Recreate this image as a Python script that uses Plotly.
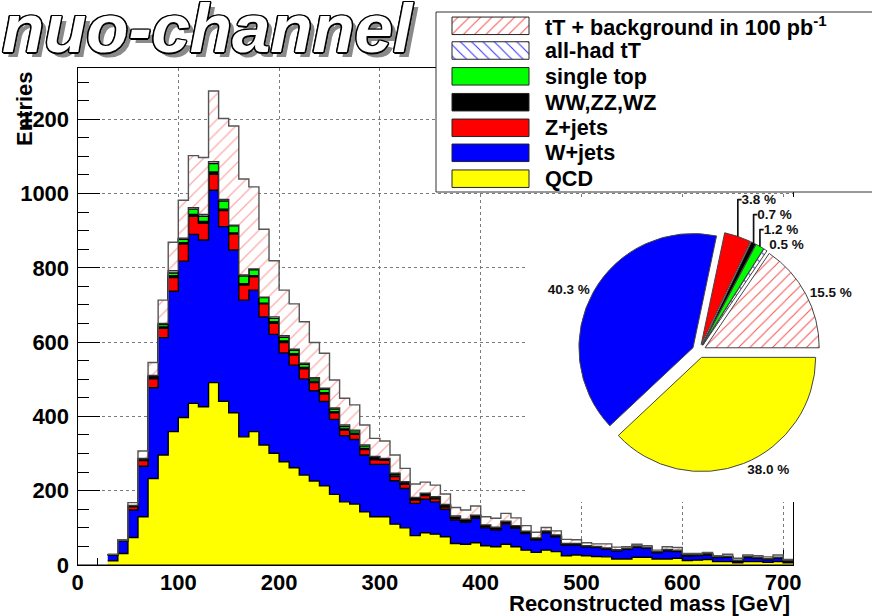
import numpy as np
import plotly.graph_objects as go

# ---------------- data ----------------
bin_low = list(range(30, 710, 10))  # 68 bins of 10 GeV, 30..700
qcd = [11, 31, 74, 130, 233, 296, 359, 397, 435, 426,
       491, 441, 410, 345, 359, 323, 301, 278, 262, 242,
       226, 213, 190, 170, 164, 143, 130, 130, 110, 100,
       79, 87, 83, 76, 58, 56, 60, 52, 49, 56,
       49, 40, 34, 40, 36, 25, 27, 25, 23, 22,
       16, 16, 21, 21, 16, 16, 18, 12, 13, 15,
       9, 9, 6, 9, 9, 7, 9, 6]
wjets = [16, 34, 74, 136, 244, 316, 378, 421, 455, 449,
         518, 470, 438, 368, 381, 345, 320, 293, 276, 259,
         243, 227, 202, 178, 174, 153, 141, 141, 117, 106,
         87, 90, 87, 74, 63, 59, 66, 48, 45, 54,
         50, 45, 33, 47, 40, 29, 27, 24, 24, 21,
         22, 26, 27, 24, 17, 22, 18, 12, 12, 12,
         11, 12, 5, 11, 9, 8, 9, 4]
zjets = [1, 1, 9, 15, 24, 25, 37, 46, 49, 45,
         43, 43, 43, 41, 36, 35, 30, 28, 27, 27,
         22, 20, 18, 15, 14, 15, 12, 11, 11, 11,
         9, 10, 8, 6, 5, 3, 3, 3, 3, 3,
         3, 2, 2, 1, 1, 1, 1, 1, 1, 1,
         1, 1, 1, 1, 1, 1, 1, 1, 1, 1,
         1, 0, 0, 0, 0, 0, 0, 0]
diboson = [0, 0, 1, 2, 3, 4, 5, 4, 5, 5,
           6, 4, 3, 3, 3, 2, 4, 4, 4, 4,
           4, 4, 3, 3, 3, 3, 3, 2, 2, 2,
           2, 2, 2, 2, 2, 2, 2, 2, 2, 2,
           1, 1, 1, 1, 1, 1, 1, 1, 1, 1,
           1, 1, 1, 1, 1, 1, 1, 1, 1, 1,
           1, 1, 1, 1, 1, 1, 1, 1]
single_top = [0, 0, 1, 2, 3, 6, 7, 9, 14, 14,
              23, 22, 19, 21, 16, 15, 9, 10, 9, 8,
              6, 9, 7, 7, 6, 6, 4, 2, 4, 3,
              2, 3, 3, 3, 1, 1, 1, 1, 1, 1,
              1, 1, 1, 1, 1, 0, 0, 0, 0, 0,
              0, 0, 0, 0, 0, 0, 0, 0, 0, 0,
              0, 0, 0, 0, 0, 0, 0, 0]
allhad_tt = [0, 0, 1, 2, 3, 3, 6, 3, 4, 5,
             5, 4, 2, 3, 2, 1, 4, 4, 3, 3,
             3, 3, 3, 4, 2, 3, 2, 1, 3, 2,
             3, 1, 1, 2, 3, 2, 2, 2, 2, 2,
             2, 2, 2, 2, 2, 2, 2, 1, 1, 1,
             1, 1, 1, 1, 1, 2, 2, 2, 1, 2,
             1, 2, 1, 2, 2, 1, 2, 1]
ttbar = [1, 1, 8, 20, 35, 63, 77, 102, 140, 153,
         190, 218, 267, 258, 221, 183, 151, 123, 122, 112,
         95, 94, 75, 72, 68, 54, 49, 47, 49, 36,
         36, 30, 31, 28, 23, 25, 25, 22, 24, 21,
         21, 15, 15, 9, 11, 11, 10, 8, 7, 11,
         7, 4, 5, 4, 4, 7, 7, 3, 3, 3,
         2, 5, 5, 4, 4, 5, 6, 3]

legend_labels = ["tT + background in 100 pb<sup>-1</sup>", "all-had tT", "single top",
                 "WW,ZZ,WZ", "Z+jets", "W+jets", "QCD"]
pie_labels = ["tT + background", "all-had tT", "single top", "WW,ZZ,WZ",
              "Z+jets", "W+jets", "QCD"]
pie_percent = [15.5, 0.5, 1.2, 0.7, 3.8, 40.3, 38.0]

x_ticks = [0, 100, 200, 300, 400, 500, 600, 700]
y_ticks = [0, 200, 400, 600, 800, 1000, 1200]

# ---------------- styles / layout ----------------
W, H = 872, 616
BIN_W = 10
RED_HATCH = "#f55a5a"
BLUE_HATCH = "#3a3aff"
FONT = "Liberation Sans, Arial, sans-serif"

# frame in pixels
FX0, FX1, FY_TOP, FY_BOT = 77.5, 793.2, 68, 565

fig = go.Figure()

edges = np.array(bin_low + [bin_low[-1] + BIN_W])


def stepvals(v):
    v = np.asarray(v, dtype=float)
    return np.append(v, v[-1])


stack = [
    (qcd, "#ffff00", "black", None),
    (wjets, "#0000ff", "black", None),
    (zjets, "#ff0000", "black", None),
    (diboson, "#000000", "black", None),
    (single_top, "#00ff00", "black", None),
    (allhad_tt, "white", "#333333", dict(shape="\\", fgcolor=BLUE_HATCH, bgcolor="white", size=8, solidity=0.14)),
    (ttbar, "white", "#555555", dict(shape="/", fgcolor=RED_HATCH, bgcolor="white", size=9, solidity=0.14)),
]
cum = np.zeros(len(bin_low))
for i, (vals, fcol, lcol, pat) in enumerate(stack):
    cum = cum + np.asarray(vals, dtype=float)
    tr = go.Scatter(
        x=edges, y=stepvals(cum), mode="lines",
        line=dict(shape="hv", color=lcol, width=1.4),
        fill="tozeroy" if i == 0 else "tonexty",
        fillcolor=fcol, showlegend=False, hoverinfo="skip",
        xaxis="x", yaxis="y",
    )
    if pat is not None:
        tr.fillpattern = pat
    fig.add_trace(tr)

# legend swatches on a full-figure pixel axis (x2/y2)
row_y = [25.8, 50.5, 76.3, 102.2, 127.8, 152.8, 178.7]
sw_colors = [RED_HATCH, BLUE_HATCH, "#00ff00", "#000000", "#ff0000", "#0000ff", "#ffff00"]
sw_shapes = ["/", "\\", "", "", "", "", ""]
sw_bg = ["white", "white", "#00ff00", "#000000", "#ff0000", "#0000ff", "#ffff00"]
fig.add_trace(go.Bar(
    x=[77] * 7, base=[452] * 7, y=row_y, orientation="h", width=17.5,
    marker=dict(color=sw_colors, line=dict(color="#222222", width=1),
                pattern=dict(shape=sw_shapes, bgcolor=sw_bg, fillmode="replace", size=8, solidity=0.14)),
    xaxis="x2", yaxis="y2", showlegend=False, hoverinfo="skip",
))

# pie chart
PCX, PCY, PR = 699, 351, 121
fig.add_trace(go.Pie(
    values=pie_percent, labels=pie_labels, sort=False,
    direction="counterclockwise", rotation=90 - 360 * pie_percent[0] / 100, pull=0.06,
    marker=dict(colors=["white", "white", "#00ff00", "#000000", "#ff0000", "#0000ff", "#ffff00"],
                line=dict(color="#444444", width=1),
                pattern=dict(shape=["/", "\\", "", "", "", "", ""],
                             fgcolor=[RED_HATCH, BLUE_HATCH, "#00ff00", "#000000", "#ff0000", "#0000ff", "#ffff00"],
                             bgcolor=["white", "white", "#00ff00", "#000000", "#ff0000", "#0000ff", "#ffff00"],
                             size=8, solidity=0.14)),
    texttemplate="%{value:.1f} %", textposition="outside",
    textfont=dict(family=FONT, size=13.5, color="#111111", weight="bold"),
    domain=dict(x=[(PCX - PR) / W, (PCX + PR) / W], y=[(H - PCY - PR) / H, (H - PCY + PR) / H]),
    showlegend=False, hoverinfo="skip", automargin=False,
))

tickfont = dict(family=FONT, size=22, color="black", weight="bold")
fig.update_layout(
    width=W, height=H, margin=dict(l=0, r=0, t=0, b=0, pad=0, autoexpand=False),
    paper_bgcolor="white", plot_bgcolor="rgba(0,0,0,0)",
    showlegend=False,
    xaxis=dict(domain=[FX0 / W, FX1 / W], range=[0, 710], tickvals=x_ticks,
               ticks="inside", ticklen=15, tickwidth=1, tickcolor="black",
               showline=True, linecolor="black", linewidth=1, mirror=True,
               showgrid=True, gridcolor="#7a7a7a", griddash="dot", gridwidth=1,
               zeroline=False, tickfont=tickfont, layer="below traces", automargin=False,
               ticklabelstandoff=-2,
               minor=dict(dtick=20, tick0=0, ticks="inside", ticklen=7.5, tickcolor="black", showgrid=False),
               anchor="y", fixedrange=True),
    yaxis=dict(domain=[(H - FY_BOT) / H, (H - FY_TOP) / H], range=[0, 1338], tickvals=y_ticks,
               ticks="inside", ticklen=22, tickwidth=1, tickcolor="black",
               showline=True, linecolor="black", linewidth=1, mirror=True,
               showgrid=True, gridcolor="#7a7a7a", griddash="dot", gridwidth=1,
               zeroline=False, tickfont=tickfont, layer="below traces", ticklabelstandoff=3,
               automargin=False,
               minor=dict(dtick=50, tick0=0, ticks="inside", ticklen=11, tickcolor="black", showgrid=False),
               anchor="x", fixedrange=True),
    xaxis2=dict(domain=[0, 1], range=[0, W], visible=False, anchor="y2", fixedrange=True, automargin=False),
    yaxis2=dict(domain=[0, 1], range=[H, 0], visible=False, anchor="x2", fixedrange=True, automargin=False),
)

# bottom frame line above the fills
fig.add_shape(type="line", xref="x domain", yref="y domain", x0=0, x1=1, y0=0, y1=0,
              line=dict(color="black", width=1.2), layer="above")

# white pad behind the pie and the legend box (drawn over the main frame/grid)
fig.add_shape(type="rect", xref="x2", yref="y2", x0=525, x1=900, y0=197, y1=502,
              fillcolor="white", line=dict(width=0), layer="between")
fig.add_shape(type="rect", xref="x2", yref="y2", x0=436, x1=900, y0=12, y1=192,
              fillcolor="white", line=dict(color="#333333", width=1), layer="between")

# legend texts
for lab, yy in zip(legend_labels, row_y):
    fig.add_annotation(xref="x2", yref="y2", x=543, y=yy, text=lab, showarrow=False,
                       xanchor="left", yanchor="middle",
                       font=dict(family=FONT, size=21.6, color="black", weight="bold"))

# axis titles
fig.add_annotation(xref="x2", yref="y2", x=792, y=603, text="Reconstructed mass [GeV]",
                   showarrow=False, xanchor="right", yanchor="middle",
                   font=dict(family=FONT, size=22, color="black", weight="bold"))
fig.add_annotation(xref="x2", yref="y2", x=24, y=109, text="Entries", textangle=-90,
                   showarrow=False, xanchor="center", yanchor="middle",
                   font=dict(family=FONT, size=22, color="black", weight="bold"))

# title
outline = ", ".join(f"{dx}px {dy}px 0 #000" for dx, dy in
                    [(1.5, 0), (-1.5, 0), (0, 1.5), (0, -1.5), (1.2, 1.2), (-1.2, 1.2), (1.2, -1.2), (-1.2, -1.2)])
fig.add_annotation(xref="paper", yref="paper", x=0, y=1 - 29 / H, text="nuo-channel", showarrow=False,
                   xanchor="left", yanchor="middle",
                   font=dict(family="Liberation Sans, sans-serif", size=69,
                             color="white", weight="bold", style="italic",
                             shadow=outline + ", 5px 5px 0 #8a8a8a"))

fig.write_html("out.html", config={"displayModeBar": False, "staticPlot": True},
               post_script="document.body.style.margin='0px';document.body.style.padding='0px';")
